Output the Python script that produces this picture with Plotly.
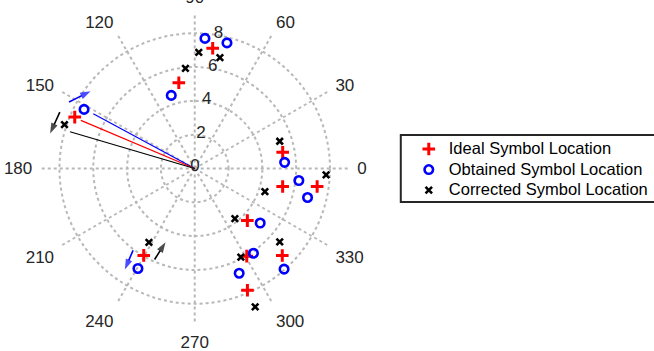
import plotly.graph_objects as go

# Symbol locations (magnitude, phase in degrees)
ideal_r = [7.19, 5.16, 7.72, 5.29, 5.31, 7.32, 4.38, 7.30, 6.03, 7.85, 5.96]
ideal_theta = [81.5, 100.5, 156.8, 10.4, 348.4, 351.6, 315.3, 315.2, 300.7, 293.4, 239.6]

obtained_r = [7.72, 7.67, 4.54, 7.42, 5.33, 6.20, 6.89, 5.04, 7.96, 6.10, 6.73, 6.80]
obtained_theta = [85.5, 75.6, 107.8, 151.9, 3.9, 353.4, 345.6, 320.2, 311.6, 304.7, 293.0, 240.4]

corrected_r = [6.87, 6.73, 5.95, 8.13, 5.28, 7.78, 4.37, 3.80, 6.64, 5.91, 8.93, 5.14]
corrected_theta = [88.0, 77.2, 95.3, 161.4, 17.8, 357.2, 341.8, 308.7, 319.2, 297.5, 293.6, 238.2]

# Phasor lines from the origin: (colour, magnitude, phase)
vectors = [("#0000ff", 6.82, 151.6), ("#ff0000", 7.31, 157.1), ("#000000", 7.69, 163.6)]

# Rotation arrows: (colour, tail r, tail theta, tip r, tip theta)
arrows = [
    ("#0000ff", 8.41, 152.1, 7.67, 143.4),
    ("#000000", 8.65, 157.3, 8.80, 166.4),
    ("#0000ff", 6.06, 233.0, 7.26, 235.3),
    ("#000000", 5.88, 246.2, 4.69, 248.4),
]

ring_ticks = [0, 2, 4, 6, 8]
ring_label_angle = 80
ring_label_offset = 0.1
r_max = 9.18
angle_ticks = list(range(0, 360, 30))

FONT = "Liberation Sans, Arial, sans-serif"
TEXT = "#262626"
GRID = "#b8b8b8"
LEGEND_TEXT_PX = 16.5


def legend_name(label):
    return f"<span style='font-size:{LEGEND_TEXT_PX}px'>{label}</span>"


fig = go.Figure()

for color, mag, ph in vectors:
    fig.add_trace(go.Scatterpolar(
        r=[0, mag], theta=[ph, ph], mode="lines",
        line=dict(color=color, width=1.2), showlegend=False, hoverinfo="skip"))

for color, r0, t0, r1, t1 in arrows:
    fig.add_trace(go.Scatterpolar(
        r=[r0, r1], theta=[t0, t1], mode="lines+markers",
        line=dict(color=color, width=1.6),
        marker=dict(symbol="arrow", size=[0, 11], color=color, angleref="previous",
                    line=dict(width=0)),
        showlegend=False, hoverinfo="skip"))

fig.add_trace(go.Scatterpolar(
    r=ideal_r, theta=ideal_theta, mode="markers",
    name=legend_name("Ideal Symbol Location"),
    marker=dict(symbol="cross-thin", size=9, line=dict(color="#ff0000", width=3))))

fig.add_trace(go.Scatterpolar(
    r=obtained_r, theta=obtained_theta, mode="markers",
    name=legend_name("Obtained Symbol Location"),
    marker=dict(symbol="circle-open", size=8.5, color="#0000ff",
                line=dict(color="#0000ff", width=2.6))))

fig.add_trace(go.Scatterpolar(
    r=corrected_r, theta=corrected_theta, mode="markers",
    name=legend_name("Corrected Symbol Location"),
    marker=dict(symbol="x-thin", size=6.5, line=dict(color="#000000", width=2.6))))

# Magnitude ring labels
fig.add_trace(go.Scatterpolar(
    r=[v + ring_label_offset for v in ring_ticks],
    theta=[ring_label_angle] * len(ring_ticks), mode="text",
    text=[str(v) for v in ring_ticks], textposition="middle center",
    textfont=dict(family=FONT, size=17, color=TEXT),
    showlegend=False, hoverinfo="skip"))

fig.update_layout(
    width=654, height=351,
    margin=dict(l=0, r=0, t=0, b=0),
    paper_bgcolor="white",
    font=dict(family=FONT, color=TEXT),
    polar=dict(
        domain=dict(x=[0.0601, 0.5372], y=[0.0755, 0.9644]),
        bgcolor="white",
        radialaxis=dict(range=[0, r_max + 0.02], tickvals=[2, 4, 6, 8, r_max],
                        showticklabels=False, ticks="", showline=False,
                        gridcolor=GRID, griddash="dot", gridwidth=1.6),
        angularaxis=dict(tickvals=angle_ticks, ticktext=[str(a) for a in angle_ticks],
                         direction="counterclockwise", rotation=0,
                         ticks="outside", ticklen=3, tickcolor="rgba(0,0,0,0)",
                         showline=False,
                         gridcolor=GRID, griddash="dot", gridwidth=1.6,
                         tickfont=dict(family=FONT, size=17, color=TEXT)),
    ),
    legend=dict(x=0.6147, y=0.619, xanchor="left", yanchor="top",
                bgcolor="rgba(0,0,0,0)", borderwidth=0,
                indentation=8,
                font=dict(family=FONT, size=13.5, color="#000000")),
    # legend frame
    shapes=[dict(type="rect", xref="paper", yref="paper",
                 x0=0.6147, x1=1.01, y0=0.4245, y1=0.6154,
                 line=dict(color=TEXT, width=2), fillcolor="rgba(0,0,0,0)",
                 layer="below")],
)

fig.write_html("out.html")
